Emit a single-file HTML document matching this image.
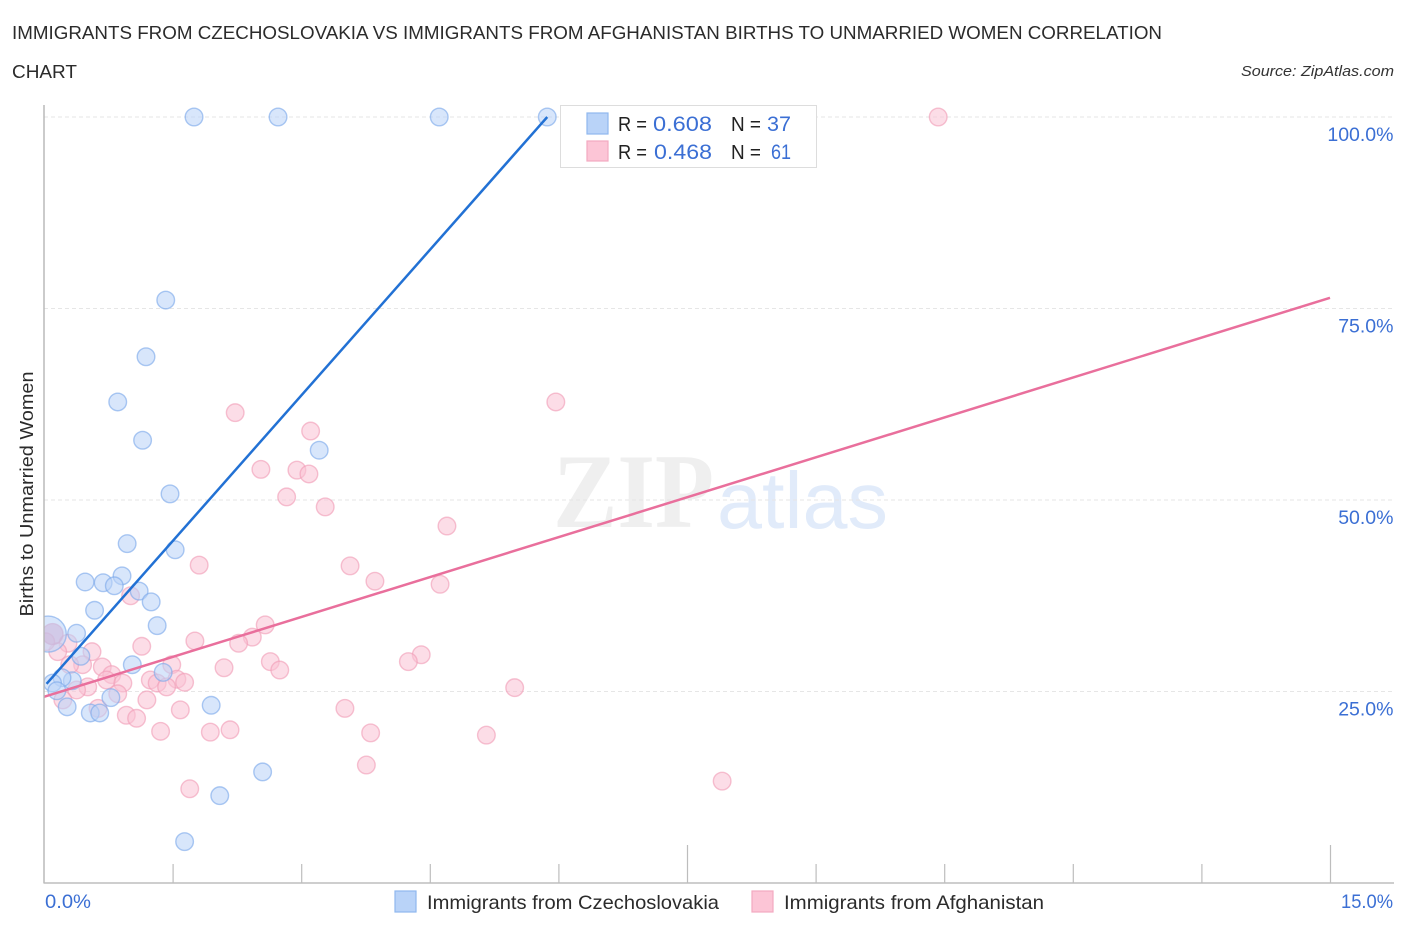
<!DOCTYPE html>
<html lang="en">
<head>
<meta charset="utf-8">
<title>Births to Unmarried Women Correlation Chart</title>
<style>
html,body{margin:0;padding:0;background:#fff;}
svg{display:block;font-family:"Liberation Sans",sans-serif;}
</style>
</head>
<body>
<svg id="chart" xmlns="http://www.w3.org/2000/svg" width="1406" height="930" viewBox="0 0 1406 930">
  <defs>
    <clipPath id="plot-clip"><rect x="44" y="100" width="1350" height="783"></rect></clipPath>
  </defs>
  <rect x="0" y="0" width="1406" height="930" fill="#ffffff"></rect>

  <text x="12" y="39" font-size="18.5" fill="#2b2b2b" textLength="1150" lengthAdjust="spacingAndGlyphs">IMMIGRANTS FROM CZECHOSLOVAKIA VS IMMIGRANTS FROM AFGHANISTAN BIRTHS TO UNMARRIED WOMEN CORRELATION</text>
  <text x="12" y="78" font-size="18.5" fill="#2b2b2b" textLength="65" lengthAdjust="spacingAndGlyphs">CHART</text>
  <text x="1241" y="76" font-size="15" font-style="italic" fill="#333333" textLength="153" lengthAdjust="spacingAndGlyphs">Source: ZipAtlas.com</text>

  <g>
    <text x="553" y="527" style="font-family:'Liberation Serif',serif;font-weight:bold" font-size="106" fill="#efefef" textLength="161" lengthAdjust="spacingAndGlyphs">ZIP</text>
    <text x="717" y="528" style="font-family:'Liberation Sans',Arial,sans-serif" font-size="80" fill="#e1ebfa" textLength="171" lengthAdjust="spacingAndGlyphs">atlas</text>
  </g>

  <g id="grid"></g>
  <g id="points" clip-path="url(#plot-clip)"></g>
  <g id="lines"></g>
  <g id="axes"></g>

  <text transform="translate(33 494) rotate(-90)" font-size="18.5" fill="#2b2b2b" text-anchor="middle" textLength="245" lengthAdjust="spacingAndGlyphs">Births to Unmarried Women</text>

  <g>
    <rect x="560.5" y="105.5" width="256" height="62" fill="#ffffff" stroke="#dddddd"></rect>
    <rect x="587" y="113" width="21" height="21" fill="#b9d3f8" stroke="#8fb8ee" stroke-width="1.2"></rect>
    <rect x="587" y="141" width="21" height="20" fill="#fcc5d6" stroke="#f3a9c0" stroke-width="1.2"></rect>
    <text x="618" y="131" font-size="20" fill="#222222" textLength="29" lengthAdjust="spacingAndGlyphs">R =</text>
    <text x="653" y="131" font-size="21" fill="#3b6fd4" textLength="59" lengthAdjust="spacingAndGlyphs">0.608</text>
    <text x="731" y="131" font-size="20" fill="#222222" textLength="30" lengthAdjust="spacingAndGlyphs">N =</text>
    <text x="767" y="131" font-size="21" fill="#3b6fd4" textLength="24" lengthAdjust="spacingAndGlyphs">37</text>
    <text x="618" y="159" font-size="20" fill="#222222" textLength="29" lengthAdjust="spacingAndGlyphs">R =</text>
    <text x="654" y="159" font-size="21" fill="#3b6fd4" textLength="58" lengthAdjust="spacingAndGlyphs">0.468</text>
    <text x="731" y="159" font-size="20" fill="#222222" textLength="30" lengthAdjust="spacingAndGlyphs">N =</text>
    <text x="771" y="159" font-size="21" fill="#3b6fd4" textLength="20" lengthAdjust="spacingAndGlyphs">61</text>
  </g>

  <g>
    <g>
      <rect x="395" y="891" width="21" height="21" fill="#b9d3f8" stroke="#8fb8ee" stroke-width="1.2"></rect>
      <text x="427" y="909" font-size="19.5" fill="#2b2b2b" textLength="292" lengthAdjust="spacingAndGlyphs">Immigrants from Czechoslovakia</text>
    </g>
    <g>
      <rect x="752" y="891" width="21" height="21" fill="#fcc5d6" stroke="#f3a9c0" stroke-width="1.2"></rect>
      <text x="784" y="909" font-size="19.5" fill="#2b2b2b" textLength="260" lengthAdjust="spacingAndGlyphs">Immigrants from Afghanistan</text>
    </g>
  </g>
</svg>

<script>
const xTickValues = [0, 1.5, 3, 4.5, 6, 7.5, 9, 10.5, 12, 13.5, 15];
const xMajorTickValues = [7.5, 15];
const xEndValues = [0, 15];
const xEndLabels = ["0.0%", "15.0%"];
const yTickValues = [25, 50, 75, 100];
const yTickLabels = ["25.0%", "50.0%", "75.0%", "100.0%"];

const blueX = [1.75, 2.73, 4.61, 5.87, 1.42, 1.19, 0.86, 1.15, 3.21, 1.47, 0.97, 1.53, 0.48, 0.91, 0.69, 0.82, 1.11, 1.25, 0.59, 1.32, 0.38, 0.43, 1.03, 1.39, 0.33, 0.21, 0.10, 0.15, 0.27, 0.54, 0.65, 0.78, 1.95, 2.55, 2.05, 1.64];
const blueY = [100, 100, 100, 100, 76.1, 68.7, 62.8, 57.8, 56.5, 50.8, 44.3, 43.5, 39.3, 40.1, 39.2, 38.8, 38.1, 36.7, 35.6, 33.6, 32.6, 29.6, 28.5, 27.5, 26.4, 26.8, 26.1, 25.1, 23.0, 22.2, 22.2, 24.2, 23.2, 14.5, 11.4, 5.4];
const blueLargeX = [0.05];
const blueLargeY = [32.5];

const pinkX = [10.43, 5.97, 2.23, 3.11, 2.53, 2.95, 3.09, 2.83, 3.28, 4.70, 1.81, 3.57, 3.86, 4.62, 1.01, 2.58, 2.43, 1.76, 2.27, 1.14, 0.28, 0.16, 0.56, 4.40, 4.25, 0.45, 0.30, 0.68, 1.49, 2.64, 2.75, 2.10, 0.79, 0.73, 1.24, 1.55, 1.32, 1.64, 0.92, 1.43, 0.51, 0.38, 5.49, 0.86, 1.20, 0.22, 3.51, 1.59, 0.63, 0.96, 1.08, 1.36, 1.94, 2.17, 3.81, 5.16, 3.76, 7.91, 1.70, 0.02];
const pinkY = [100, 62.8, 61.4, 59.0, 54.0, 53.9, 53.4, 50.4, 49.1, 46.6, 41.5, 41.4, 39.4, 39.0, 37.5, 33.7, 32.1, 31.6, 31.3, 30.9, 31.3, 30.2, 30.2, 29.8, 28.9, 28.5, 28.5, 28.2, 28.5, 28.9, 27.8, 28.1, 27.2, 26.5, 26.5, 26.6, 26.1, 26.2, 26.1, 25.6, 25.6, 25.2, 25.5, 24.7, 23.9, 23.9, 22.8, 22.6, 22.8, 21.9, 21.5, 19.8, 19.7, 20.0, 19.6, 19.3, 15.4, 13.3, 12.3, 31.5];
const pinkLargeX = [0.10];
const pinkLargeY = [32.5];

const blueLineX = [0.03, 5.87];
const blueLineY = [26.0, 100];
const pinkLineX = [0, 15];
const pinkLineY = [24.3, 76.4];

const SVG_NS = "http://www.w3.org/2000/svg";
const plotLeft = 44, plotRight = 1330, plotBottom = 883, plotTop = 117, labelRight = 1393;
function xScale(v) { return plotLeft + (v / 15) * (plotRight - plotLeft); }
function yScale(v) { return plotBottom - (v / 100) * (plotBottom - plotTop); }
function make(parent, tag, props) {
  const el = document.createElementNS(SVG_NS, tag);
  for (const k in props) el.setAttribute(k, props[k]);
  parent.appendChild(el);
  return el;
}

const grid = document.getElementById("grid");
const axes = document.getElementById("axes");
const pointsGroup = document.getElementById("points");
const linesGroup = document.getElementById("lines");

yTickValues.forEach(function (v, i) {
  const g = make(grid, "line", { x1: plotLeft, x2: labelRight, y1: yScale(v), y2: yScale(v), stroke: "#e6e6e6", "stroke-width": 1, "stroke-dasharray": "4 3" });
  
  
  const t = make(axes, "text", { x: labelRight + 0.5, y: yScale(v) + 24, "font-size": 19.5, fill: "#3b6fd4", "text-anchor": "end" });
  t.textContent = yTickLabels[i];
  
  
});

xTickValues.forEach(function (v) {
  const major = xMajorTickValues.indexOf(v) >= 0;
  if (v === 0) return;
  const tick = make(axes, "line", { x1: xScale(v) + 0.5, x2: xScale(v) + 0.5, y1: major ? plotBottom - 38 : plotBottom - 19, y2: plotBottom, stroke: "#bdbdbd", "stroke-width": 1.2 });
  
  
});

const yAxisLine = make(axes, "line", { x1: plotLeft, x2: plotLeft, y1: 105, y2: plotBottom + 0.5, stroke: "#b5b5b5", "stroke-width": 1.4 });


const xAxisLine = make(axes, "line", { x1: plotLeft, x2: plotRight + 64, y1: plotBottom, y2: plotBottom, stroke: "#bdbdbd", "stroke-width": 1.6 });



xEndValues.forEach(function (v, i) {
  const t = make(axes, "text", { x: i === 0 ? xScale(v) + 1 : 1341, y: 908, "font-size": 19.5, fill: "#3b6fd4", textLength: i === 0 ? 46 : 52, lengthAdjust: "spacingAndGlyphs" });
  t.textContent = xEndLabels[i];
  
  
});

function drawPoints(xs, ys, r, fill, stroke, name) {
  xs.forEach(function (x, i) {
    const c = make(pointsGroup, "circle", { cx: xScale(x), cy: yScale(ys[i]), r: r, fill: fill, "fill-opacity": 0.56, stroke: stroke, "stroke-opacity": 0.62, "stroke-width": 1.4 });
    
    
  });
}
drawPoints(pinkX, pinkY, 8.8, "#fac3d4", "#f09db7", "point-afghanistan");
drawPoints(pinkLargeX, pinkLargeY, 10.5, "#e88fb0", "#e88fb0", "point-afghanistan-large");
drawPoints(blueX, blueY, 8.8, "#b9d3f8", "#7ba8ea", "point-czechoslovakia");
drawPoints(blueLargeX, blueLargeY, 18, "#b9d3f8", "#7ba8ea", "point-czechoslovakia-large");

const blueLine = make(linesGroup, "line", { x1: xScale(blueLineX[0]), y1: yScale(blueLineY[0]), x2: xScale(blueLineX[1]), y2: yScale(blueLineY[1]), stroke: "#2271d4", "stroke-width": 2.5 });


const pinkLine = make(linesGroup, "line", { x1: xScale(pinkLineX[0]), y1: yScale(pinkLineY[0]), x2: xScale(pinkLineX[1]), y2: yScale(pinkLineY[1]), stroke: "#e96f9c", "stroke-width": 2.5 });


</script>
</body>
</html>
